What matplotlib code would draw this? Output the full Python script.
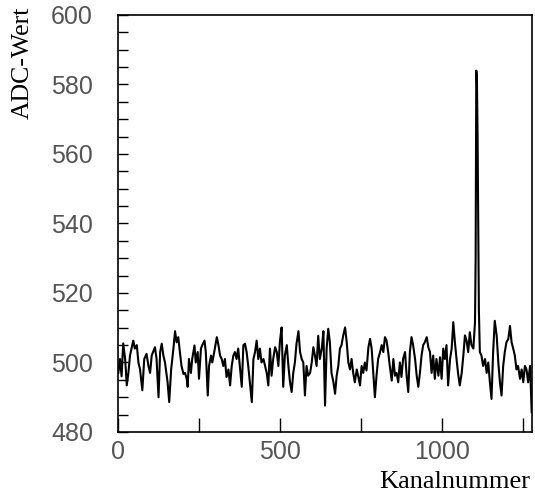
import matplotlib
matplotlib.use('Agg')
import matplotlib.pyplot as plt
from matplotlib.ticker import MultipleLocator

kanal = [1, 6, 11, 16, 22, 27, 32, 37, 47, 52, 58, 63, 68, 75, 81, 88, 94, 99, 104, 114,
         119, 125, 130, 135, 140, 145, 153, 158, 164, 171, 176, 181, 186, 191, 196, 202,
         207, 212, 215, 219, 225, 229, 236, 240, 246, 250, 256, 260, 267, 271, 277, 281,
         287, 291, 297, 305, 310, 315, 320, 325, 330, 335, 341, 346, 351, 356, 361, 366,
         371, 377, 382, 387, 392, 397, 402, 407, 413, 418,
         423, 428, 433, 438, 443, 449, 454, 459, 464, 469, 474, 479, 485, 490, 495, 500,
         505, 510, 515, 521, 526, 531, 536, 541, 546, 551, 557, 562, 567, 572, 577, 582,
         587, 593, 598, 603, 608, 613, 618, 623, 629, 634,
         639, 644, 649, 654, 659, 665, 670, 675, 680, 685, 690, 695, 701, 706, 711, 716,
         721, 726, 731, 737, 742, 747, 752, 757, 762, 767, 773, 778, 783, 788, 793, 798,
         803, 809, 814, 819, 824, 829, 834, 839, 845, 850, 855,
         860, 865, 870, 875, 880, 886, 891, 896, 901, 906, 911, 917, 922, 927, 932, 937,
         942, 947, 953, 958, 963, 968, 973, 978, 983, 989, 994, 999, 1004, 1009, 1014,
         1019, 1025, 1030, 1035, 1040, 1045, 1050, 1055,
         1061, 1066, 1071, 1076, 1081, 1086, 1091, 1097, 1102,
         1104, 1106, 1107, 1108, 1110, 1112, 1114,
         1117, 1122, 1127, 1133, 1138, 1143, 1148, 1153, 1158, 1163, 1169, 1174, 1179,
         1184, 1189, 1194, 1199, 1205, 1210, 1215, 1220, 1225, 1230, 1235, 1241, 1246,
         1251, 1256, 1261, 1266, 1272, 1277]

adc = [497, 501, 496, 505.5, 501, 493.4, 497, 502, 506.3, 504, 505, 500, 498, 492, 501,
       502.5, 499, 497, 502, 504.4, 501, 490, 503, 505.4, 502, 500, 494.3, 488.6, 498, 504,
       509, 505.8, 507.3, 503, 499, 496.7,
       497, 495.3, 493, 501, 497, 501, 504.9, 500, 503, 495.3, 504, 505, 506.3, 503, 490.5,
       499, 502, 500, 503, 507.3, 505, 502, 501, 499, 501, 495.8, 498, 493.4, 499, 502,
       503, 501, 504, 498, 493, 505, 505.4, 503, 499, 494.3, 488.6, 501,
       503, 506.3, 501, 504, 500, 501, 499, 497, 493.4, 504, 496.2, 501, 504.4, 503, 499,
       506.3, 510.1, 493, 502, 505, 499, 494.3, 491.5, 497, 500, 505.4, 509, 503, 501,
       500, 490.5, 499, 496.2, 497, 500, 504.4, 502, 499, 507.7, 501, 504, 509,
       487.6, 504, 509.7, 505.8, 497, 494.3, 491, 496.2, 499, 504, 505, 507.7, 510.1,
       505.8, 500, 498, 501, 497, 494.3, 498, 495.8, 493.4, 499, 497, 500, 497.7, 504.4,
       506.8, 504, 497, 490, 496.2, 501, 503, 505, 503, 507.3, 506.3, 503, 499, 494.8,
       501, 496.2,
       497, 494.3, 500, 495.8, 501, 503, 496.2, 491.5, 503, 507.3, 505, 501, 496.2, 493,
       497, 502, 505, 505.8, 507.3, 504.4, 503, 497, 502, 495.3, 501, 496.2, 501.5, 495.3,
       504, 501, 505, 493.4, 501, 504, 511.6, 505.8, 501, 496.7, 493.4,
       497, 502, 507.8, 506.3, 503, 508.7, 505, 504, 511.6,
       530, 584, 583, 581, 565, 540, 515,
       503, 502, 499, 501, 497, 500, 494.3, 489.5, 503, 512, 507.7, 500, 494.3, 490.5,
       499, 503, 505.8, 506.8, 510.5, 505.8, 504, 502, 498, 499, 495.3, 498, 494.3, 499,
       498, 494.3, 499, 485.7]

fig = plt.figure(figsize=(5.35, 4.95), dpi=100)
ax = fig.add_axes([0.2206, 0.1273, 0.7738, 0.8424])

ax.plot(kanal, adc, color='black', linewidth=1.5)

ax.set_xlim(0, 1278)
ax.set_ylim(480, 600)

ax.xaxis.set_major_locator(MultipleLocator(500))
ax.xaxis.set_minor_locator(MultipleLocator(250))
ax.yaxis.set_major_locator(MultipleLocator(20))
ax.yaxis.set_minor_locator(MultipleLocator(5))

ax.tick_params(axis='both', which='both', direction='in', top=False, right=False,
               width=1.0, colors='black', labelcolor='#555555', labelsize=18)
ax.tick_params(axis='x', which='both', length=10, pad=6)
ax.tick_params(axis='y', which='both', length=7, pad=18)
for lab in ax.get_xticklabels() + ax.get_yticklabels():
    lab.set_fontfamily('Liberation Sans')

for sp in ax.spines.values():
    sp.set_linewidth(1.2)

# axis titles (ROOT style, placed at the ends of the axes)
fig.text(0.9907, 0.0141, 'Kanalnummer', ha='right', va='baseline',
         fontsize=19, family='Liberation Serif')
fig.text(0.042, 0.9859, 'ADC-Wert', ha='center', va='top', rotation=90,
         fontsize=18.5, family='Liberation Serif')

plt.savefig('out.png', dpi=100)
